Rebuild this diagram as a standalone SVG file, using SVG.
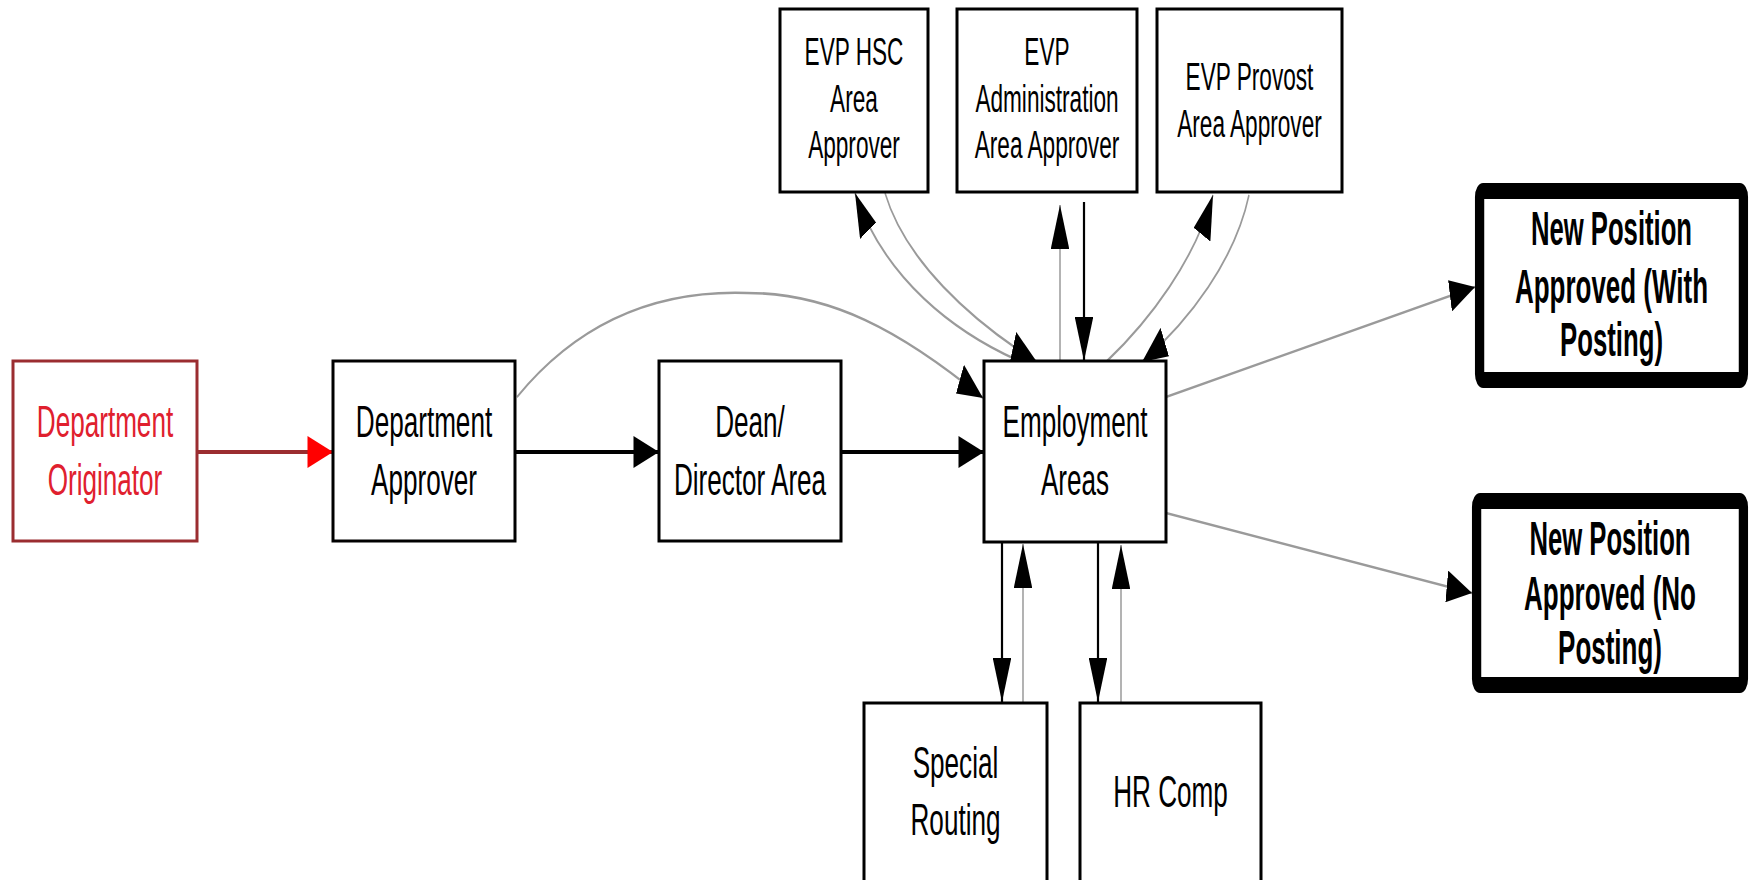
<svg xmlns="http://www.w3.org/2000/svg" width="1753" height="880" viewBox="0 0 1753 880">
<defs>
<style>
.box{fill:#fff;stroke:#000;stroke-width:3;vector-effect:non-scaling-stroke}
.orig{fill:#fff;stroke:#9b2d30;stroke-width:3;vector-effect:non-scaling-stroke}
.heavy{fill:#fff;stroke:#000;stroke-width:16;stroke-linejoin:round}
.t{font-family:"Liberation Sans",Arial,sans-serif;font-size:45px;fill:#000;text-anchor:middle}
.te{font-size:39px}
.tb{font-weight:bold;font-size:48px}
.tr{fill:#e0202e}
.blk{fill:none;stroke:#000;stroke-width:3.8;marker-end:url(#ah)}
.gry{fill:none;stroke:#9a9a9a;stroke-width:2.6;marker-end:url(#ah)}
.red{fill:none;stroke:#9b2d30;stroke-width:4;marker-end:url(#ahr)}
</style>
<marker id="ah" markerUnits="userSpaceOnUse" markerWidth="44" markerHeight="32" refX="44" refY="16" orient="auto" viewBox="0 0 44 32"><path d="M0,0 L44,16 L0,32 z" fill="#000"/></marker>
<marker id="ahr" markerUnits="userSpaceOnUse" markerWidth="44" markerHeight="32" refX="44" refY="16" orient="auto" viewBox="0 0 44 32"><path d="M0,0 L44,16 L0,32 z" fill="#ff0000"/></marker>
</defs>
<rect x="0" y="0" width="1753" height="880" fill="#fff"/>
<g transform="scale(0.58 1)">
<g id="connectors">
<path class="red" d="M339.66,452 L574.14,452"/>
<path class="blk" d="M887.93,452 L1136.21,452"/>
<path class="blk" d="M1450,452 L1696.55,452"/>
<path class="gry" d="M891.38,397 C1000,320 1137.93,290 1287.93,293 C1431.03,293 1551.72,330 1694.83,398"/>
<path class="gry" d="M1753.45,360 C1646.55,332 1525.86,280 1474.14,193"/>
<path class="gry" d="M1525.86,193 C1560.34,260 1672.41,320 1787.93,362"/>
<path class="gry" d="M1827.59,361 L1827.59,205"/>
<path class="blk" d="M1868.97,202 L1868.97,361"/>
<path class="gry" d="M1908.62,361 C1982.76,320 2060.34,260 2091.38,195"/>
<path class="gry" d="M2153.45,195 C2129.31,260 2051.72,320 1968.97,362"/>
<path class="gry" d="M2010.34,397 L2543.10,287"/>
<path class="gry" d="M2010.34,513 L2537.93,593"/>
<path class="blk" d="M1727.59,542 L1727.59,702"/>
<path class="gry" d="M1763.79,703 L1763.79,544"/>
<path class="blk" d="M1893.10,542 L1893.10,702"/>
<path class="gry" d="M1932.76,703 L1932.76,545"/>
</g>
<g id="dept-originator">
<rect class="orig" x="22.41" y="361" width="317.24" height="180"/>
<text class="t tr" x="181.03" y="437">Department</text>
<text class="t tr" x="181.03" y="495">Originator</text>
</g>
<g id="dept-approver">
<rect class="box" x="574.14" y="361" width="313.79" height="180"/>
<text class="t" x="731.03" y="437">Department</text>
<text class="t" x="731.03" y="495">Approver</text>
</g>
<g id="dean-director">
<rect class="box" x="1136.21" y="361" width="313.79" height="180"/>
<text class="t" x="1293.10" y="437">Dean/</text>
<text class="t" x="1293.10" y="495">Director Area</text>
</g>
<g id="employment-areas">
<rect class="box" x="1696.55" y="361" width="313.79" height="181"/>
<text class="t" x="1853.45" y="437">Employment</text>
<text class="t" x="1853.45" y="495">Areas</text>
</g>
<g id="evp-hsc">
<rect class="box" x="1344.83" y="9" width="255.17" height="183"/>
<text class="t te" x="1472.41" y="65">EVP HSC</text>
<text class="t te" x="1472.41" y="112">Area</text>
<text class="t te" x="1472.41" y="158">Approver</text>
</g>
<g id="evp-admin">
<rect class="box" x="1650" y="9" width="310.34" height="183"/>
<text class="t te" x="1805.17" y="65">EVP</text>
<text class="t te" x="1805.17" y="112">Administration</text>
<text class="t te" x="1805.17" y="158">Area Approver</text>
</g>
<g id="evp-provost">
<rect class="box" x="1994.83" y="9" width="318.97" height="183"/>
<text class="t te" x="2154.31" y="90">EVP Provost</text>
<text class="t te" x="2154.31" y="137">Area Approver</text>
</g>
<g id="new-position-with-posting">
<rect class="heavy" x="2551.03" y="191" width="454.83" height="189" rx="6"/>
<text class="t tb" x="2778.45" y="245" textLength="277.6" lengthAdjust="spacingAndGlyphs">New Position</text>
<text class="t tb" x="2778.45" y="303" textLength="332.8" lengthAdjust="spacingAndGlyphs">Approved (With</text>
<text class="t tb" x="2778.45" y="356" textLength="177.6" lengthAdjust="spacingAndGlyphs">Posting)</text>
</g>
<g id="new-position-no-posting">
<rect class="heavy" x="2545.86" y="501" width="460" height="184" rx="6"/>
<text class="t tb" x="2775.86" y="555" textLength="277.6" lengthAdjust="spacingAndGlyphs">New Position</text>
<text class="t tb" x="2775.86" y="610" textLength="296.6" lengthAdjust="spacingAndGlyphs">Approved (No</text>
<text class="t tb" x="2775.86" y="664" textLength="179" lengthAdjust="spacingAndGlyphs">Posting)</text>
</g>
<g id="special-routing">
<rect class="box" x="1489.66" y="703" width="315.52" height="180"/>
<text class="t" x="1647.41" y="778">Special</text>
<text class="t" x="1647.41" y="835">Routing</text>
</g>
<g id="hr-comp">
<rect class="box" x="1862.07" y="703" width="312.07" height="180"/>
<text class="t" x="2018.10" y="807">HR Comp</text>
</g>
</g>
</svg>
